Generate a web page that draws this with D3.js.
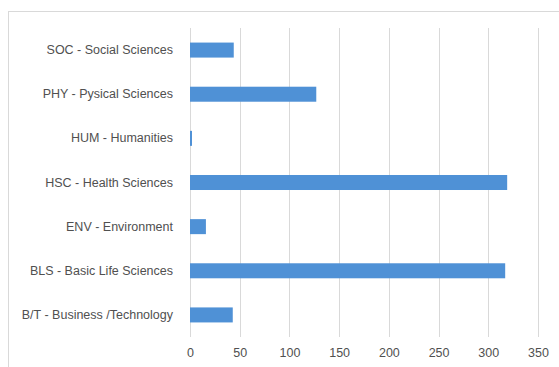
<!DOCTYPE html>
<html>
<head>
<meta charset="utf-8">
<script src="https://cdn.jsdelivr.net/npm/d3@7"></script>
<style>
  body { margin: 0; background: #fff; }
  text { font-family: "Liberation Sans", Arial, sans-serif; }
</style>
</head>
<body>
<div id="chartDiv"></div>
<script>
var categories = ["SOC - Social Sciences", "PHY - Pysical Sciences", "HUM - Humanities",
                  "HSC - Health Sciences", "ENV - Environment", "BLS - Basic Life Sciences",
                  "B/T - Business /Technology"];
var values = [44, 127, 2, 319, 16, 317, 43];
var xTicks = [0, 50, 100, 150, 200, 250, 300, 350];

var svg = d3.select("#chartDiv").append("svg")
    .attr("width", 559)
    .attr("height", 367);

var margin = {top: 28, right: 21, bottom: 30, left: 190};
var width = 559 - margin.left - margin.right,
    height = 337 - margin.top;

// chart frame
svg.append("rect")
    .attr("x", 8.5).attr("y", 11.5)
    .attr("width", 560).attr("height", 370)
    .attr("fill", "none")
    .attr("stroke", "#d9d9d9");

var g = svg.append("g").attr("transform", "translate(" + margin.left + "," + margin.top + ")");

var x_scale = d3.scaleLinear().domain([0, 350]).range([0, 348]);
var y_scale = d3.scaleBand().domain(categories).range([0, height]).paddingInner(0.66).paddingOuter(0.33);

// grid lines
g.selectAll(".grid").data(xTicks).enter().append("line")
    .attr("class", "grid")
    .attr("x1", function(d){ return Math.round(x_scale(d)) + 0.5; })
    .attr("x2", function(d){ return Math.round(x_scale(d)) + 0.5; })
    .attr("y1", 0).attr("y2", height)
    .attr("stroke", "#d9d9d9");

// bars
g.selectAll(".bar").data(values).enter().append("rect")
    .attr("class", "bar")
    .attr("x", x_scale(0))
    .attr("y", function(d, i){ return y_scale(categories[i]); })
    .attr("width", function(d){ return x_scale(d) - x_scale(0); })
    .attr("height", y_scale.bandwidth())
    .attr("fill", "#4f91d6");

// x axis labels
var xAxis = d3.axisBottom(x_scale).tickValues(xTicks).tickSize(0).tickPadding(11);
var xGroup = g.append("g").attr("transform", "translate(0," + height + ")").call(xAxis);
xGroup.select(".domain").remove();
xGroup.selectAll("text").attr("fill", "#505050").style("font-size", "12.5px");

// y axis labels
var yAxis = d3.axisLeft(y_scale).tickSize(0).tickPadding(17);
var yGroup = g.append("g").call(yAxis);
yGroup.select(".domain").remove();
yGroup.selectAll("text").attr("fill", "#505050").style("font-size", "12.5px");
</script>
</body>
</html>
